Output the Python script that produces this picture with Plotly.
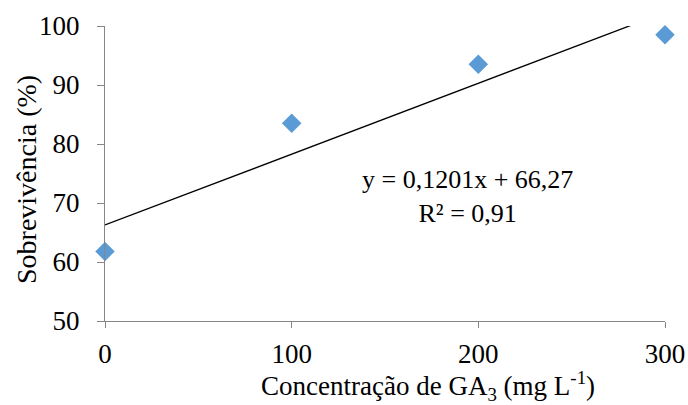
import plotly.graph_objects as go

# Data
concentracao = [0, 100, 200, 300]
sobrevivencia = [61.8, 83.5, 93.5, 98.5]
slope = 0.1201
intercept = 66.27
trend_x = [0, 300]
trend_y = [slope * x + intercept for x in trend_x]
x_ticks = [0, 100, 200, 300]
y_ticks = [50, 60, 70, 80, 90, 100]

FONT = "Liberation Serif"
AXIS = "#868686"

fig = go.Figure()
fig.add_trace(go.Scatter(
    x=trend_x, y=trend_y, mode="lines",
    line=dict(color="black", width=1.3), showlegend=False, hoverinfo="skip"))
fig.add_trace(go.Scatter(
    x=concentracao, y=sobrevivencia, mode="markers",
    marker=dict(symbol="diamond", size=15, color="#5B9BD5"),
    showlegend=False, cliponaxis=False))

fig.update_layout(
    width=688, height=405,
    margin=dict(l=105, r=23, t=26, b=84),
    paper_bgcolor="white", plot_bgcolor="white",
    font=dict(family=FONT, size=26, color="black"),
    xaxis=dict(range=[0, 300], tickvals=x_ticks, showgrid=False, zeroline=False,
               showline=True, linecolor=AXIS, linewidth=1.2, automargin=False,
               ticks="outside", ticklen=6, tickcolor=AXIS, tickwidth=1.2,
               ticklabelstandoff=2, tickfont=dict(family=FONT, size=27, color="black")),
    yaxis=dict(range=[50, 100], tickvals=y_ticks, showgrid=False, zeroline=False,
               showline=True, linecolor=AXIS, linewidth=1.2, automargin=False,
               ticks="outside", ticklen=7, tickcolor=AXIS, tickwidth=1.2,
               ticklabelstandoff=12, tickfont=dict(family=FONT, size=27, color="black")),
    annotations=[
        dict(text="Concentração de GA<sub>3</sub> (mg L<sup>-1</sup>)",
             xref="paper", yref="paper", x=(428 - 105) / 560, y=-(386 - 321) / 295,
             xanchor="center", yanchor="middle", showarrow=False,
             font=dict(family=FONT, size=27, color="black")),
        dict(text="Sobrevivência (%)", textangle=-90,
             xref="paper", yref="paper", x=-(105 - 26) / 560, y=(321 - 180) / 295,
             xanchor="center", yanchor="middle", showarrow=False,
             font=dict(family=FONT, size=28, color="black")),
        dict(text="y = 0,1201x + 66,27<br>R² = 0,91",
             xref="paper", yref="paper", x=(467 - 105) / 560, y=(321 - 196) / 295,
             xanchor="center", yanchor="middle", showarrow=False, align="center",
             font=dict(family=FONT, size=26, color="black")),
    ],
)

fig.write_html("out.html")
